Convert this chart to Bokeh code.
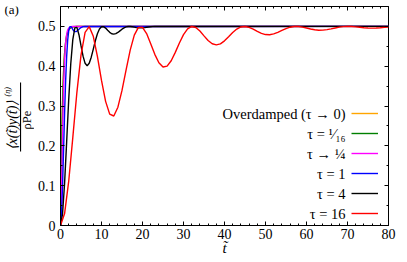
from math import pi
from bokeh.plotting import figure
from bokeh.layouts import row
from bokeh.models import (Range1d, FixedTicker, LinearAxis, Label, Legend,
                          LegendItem, BoxAnnotation, CustomLabelingPolicy)
from bokeh.core.properties import value
from bokeh.embed import file_html
from bokeh.resources import INLINE

# ---------------- data ----------------
over_t = [0, 0.05, 0.1, 0.15, 0.2, 0.3, 0.4, 0.5, 0.6, 0.8, 1.0, 1.25, 1.5, 2, 2.5, 3, 4, 5, 80]
over_y = [0, 0.0476, 0.0906, 0.1296, 0.1648, 0.2256, 0.2753, 0.3161, 0.3494, 0.3991,
          0.4323, 0.4590, 0.4751, 0.4908, 0.4966, 0.4988, 0.4998, 0.5, 0.5]

tau16th_t = [0, 0.05, 0.1, 0.15, 0.2, 0.3, 0.4, 0.5, 0.6, 0.8, 1.0, 1.25, 1.5, 2, 2.5, 3, 4, 80]
tau16th_y = [0, 0.0154, 0.0483, 0.0868, 0.1254, 0.1956, 0.2539, 0.3013, 0.3396, 0.3956,
             0.4320, 0.4602, 0.4767, 0.4920, 0.4973, 0.4991, 0.4999, 0.5]

tau4th_t = [0, 0.1, 0.2, 0.3, 0.4, 0.5, 0.6, 0.8, 1.0, 1.2, 1.4, 1.6, 1.8, 2.0, 2.5, 3, 80]
tau4th_y = [0, 0.0174, 0.0597, 0.1145, 0.1729, 0.2293, 0.2805, 0.3622, 0.4176, 0.4524,
            0.4733, 0.4853, 0.4921, 0.4958, 0.4992, 0.4998, 0.5]

tau1_t = [0, 0.25, 0.5, 0.75, 1, 1.25, 1.5, 1.75, 2, 2.25, 2.5, 2.75, 3, 3.25, 3.5,
          3.75, 4, 4.5, 5, 5.5, 6, 7, 80]
tau1_y = [0, 0.0282, 0.0990, 0.1901, 0.2824, 0.3627, 0.4241, 0.4653, 0.4887, 0.4985,
          0.4997, 0.4966, 0.4923, 0.4888, 0.4869, 0.4869, 0.4883, 0.4930, 0.4972, 0.4994,
          0.5, 0.4997, 0.5]

tau4_t = [0, 0.5, 1, 1.5, 2, 2.5, 3, 3.5, 4, 4.5, 5, 5.5, 6, 6.5, 7, 7.5, 8, 8.5, 9, 9.5,
          10, 10.5, 11, 11.5, 12, 12.5, 13, 13.5, 14, 14.5, 15, 15.5, 16, 16.5, 17, 17.5,
          18, 18.5, 19, 19.5, 20, 20.5, 21, 22, 23, 24, 80]
tau4_y = [0, 0.0294, 0.1065, 0.2097, 0.3157, 0.4055, 0.4669, 0.4963, 0.4975, 0.4791,
          0.4517, 0.4253, 0.4073, 0.4013, 0.4073, 0.4227, 0.4431, 0.4640, 0.4817, 0.4936,
          0.4993, 0.4995, 0.4958, 0.4903, 0.4852, 0.4816, 0.4805, 0.4818, 0.4848, 0.4889,
          0.4930, 0.4964, 0.4988, 0.4999, 0.4999, 0.4991, 0.4981, 0.4970, 0.4964, 0.4962,
          0.4964, 0.4970, 0.4978, 0.4993, 0.5000, 0.4998, 0.5]

tau16_t = list(range(0, 81))
tau16_y = [0, 0.0300, 0.1106, 0.2206, 0.3345, 0.4280, 0.4851, 0.4995, 0.4751, 0.4245,
           0.3644, 0.3118, 0.2797, 0.2750, 0.2971, 0.3393, 0.3910, 0.4406, 0.4781, 0.4976,
           0.4978, 0.4820, 0.4567, 0.4298, 0.4086, 0.3980, 0.4001, 0.4137, 0.4348, 0.4585,
           0.4795, 0.4940, 0.4999, 0.4973, 0.4883, 0.4762, 0.4646, 0.4564, 0.4535, 0.4563,
           0.4638, 0.4740, 0.4846, 0.4933, 0.4986, 0.4999, 0.4977, 0.4930, 0.4874, 0.4825,
           0.4795, 0.4791, 0.4811, 0.4851, 0.4899, 0.4945, 0.4980, 0.4998, 0.4998, 0.4983,
           0.4960, 0.4935, 0.4915, 0.4905, 0.4907, 0.4920, 0.4939, 0.4961, 0.4981, 0.4994,
           0.5000, 0.4997, 0.4989, 0.4978, 0.4967, 0.4959, 0.4957, 0.4959, 0.4966, 0.4976,
           0.4986]

series_labels = ["Overdamped (τ → 0)", "τ = ¹⁄₁₆", "τ → ¼", "τ = 1", "τ = 4", "τ = 16"]
series_colors = ["#FFA500", "#008000", "#FF00FF", "#0000FF", "#000000", "#FF0000"]

x_ticks = [0, 10, 20, 30, 40, 50, 60, 70, 80]
x_tick_labels = ["0", "10", "20", "30", "40", "50", "60", "70", "80"]
y_ticks = [0, 0.1, 0.2, 0.3, 0.4, 0.5]
y_tick_labels = ["0", "0.1", "0.2", "0.3", "0.4", "0.5"]

FONT = "Liberation Serif"
H = 258
SW = 34          # width of the left strip
TOP, BOTTOM = 6, 29
FB = H - BOTTOM  # page y of the frame bottom (229)

# ---------------- left strip with panel tag and y-axis title ----------------
side = figure(width=SW, height=H, output_backend="svg", toolbar_location=None,
              x_axis_type=None, y_axis_type=None, x_range=Range1d(0, SW),
              y_range=Range1d(0, 1), min_border_left=0, min_border_right=0,
              min_border_top=TOP, min_border_bottom=BOTTOM)
side.outline_line_color = None
side.background_fill_color = "white"
side.border_fill_color = "white"
side.add_layout(Label(x=4, y=FB - 13, x_units="screen", y_units="screen", text="(a)",
                      text_align="left", text_baseline="middle", text_font=FONT,
                      text_font_size="13px", text_color="black"))
side.add_layout(Label(x=12, y=FB - 153, x_units="screen", y_units="screen", angle=pi / 2,
                      text="⟨x(t̃)y(t̃)⟩", text_align="left", text_baseline="middle",
                      text_font=FONT, text_font_style="italic", text_font_size="14px",
                      text_color="black"))
side.add_layout(Label(x=7, y=FB - 100, x_units="screen", y_units="screen", angle=pi / 2,
                      text="(η)", text_align="left", text_baseline="middle",
                      text_font=FONT, text_font_style="italic", text_font_size="8px",
                      text_color="black"))
side.add_layout(BoxAnnotation(left=19.5, right=20.6, bottom=FB - 155, top=FB - 86,
                              left_units="screen", right_units="screen",
                              bottom_units="screen", top_units="screen",
                              fill_color="black", fill_alpha=1, line_color=None))
side.add_layout(Label(x=26.5, y=FB - 133, x_units="screen", y_units="screen", angle=pi / 2,
                      text="ρPe", text_align="left", text_baseline="middle",
                      text_font=FONT, text_font_size="12.5px", text_color="black"))

# ---------------- main plot ----------------
p = figure(width=366, height=H, output_backend="svg", toolbar_location=None,
           x_range=Range1d(0, 80), y_range=Range1d(0, 0.55),
           min_border_left=23, min_border_right=12, min_border_top=TOP,
           min_border_bottom=BOTTOM)
p.background_fill_color = "white"
p.border_fill_color = "white"
p.xgrid.visible = False
p.ygrid.visible = False
p.outline_line_color = "black"
p.outline_line_width = 1

x_minor = [v / 2 for v in range(0, 161, 4) if v % 20 != 0]
y_minor = [0.05, 0.15, 0.25, 0.35, 0.45, 0.55]
xt = FixedTicker(ticks=x_ticks, minor_ticks=x_minor)
yt = FixedTicker(ticks=y_ticks, minor_ticks=y_minor)


def style_axis(ax, labels=True):
    ax.major_tick_in = 4
    ax.major_tick_out = 0
    ax.minor_tick_in = 2
    ax.minor_tick_out = 0
    ax.major_tick_line_color = "black"
    ax.minor_tick_line_color = "black"
    ax.axis_line_color = "black"
    ax.major_label_text_font = FONT
    ax.major_label_text_color = "black"
    if labels:
        ax.major_label_text_font_size = "14px"
    else:
        # mirror axis: ticks only, no labels drawn at all
        ax.major_label_text_font_size = "0px"
        ax.major_label_standoff = 0
        ax.axis_line_color = None
        ax.major_label_policy = CustomLabelingPolicy(code="return new Set()")


xa = p.xaxis[0]
ya = p.yaxis[0]
xa.ticker = xt
ya.ticker = yt
xa.major_label_overrides = dict(zip(x_ticks, x_tick_labels))
ya.major_label_overrides = dict(zip(y_ticks, y_tick_labels))
style_axis(xa)
style_axis(ya)
xa.major_label_standoff = 3
ya.major_label_standoff = 5
xa.axis_label = "t̃"
xa.axis_label_text_font = FONT
xa.axis_label_text_font_style = "italic"
xa.axis_label_text_font_size = "15px"
xa.axis_label_text_color = "black"
xa.axis_label_standoff = -2

top = LinearAxis(ticker=xt)
right = LinearAxis(ticker=yt)
style_axis(top, labels=False)
style_axis(right, labels=False)
p.add_layout(top, "above")
p.add_layout(right, "right")

# ---------------- curves ----------------
all_t = [over_t, tau16th_t, tau4th_t, tau1_t, tau4_t, tau16_t]
all_y = [over_y, tau16th_y, tau4th_y, tau1_y, tau4_y, tau16_y]
renderers = []
for t, y, c in zip(all_t, all_y, series_colors):
    renderers.append(p.line(t, y, line_color=c, line_width=1.4))

# legend: line samples via Legend, texts to their left
legend = Legend(items=[LegendItem(label=value(" "), renderers=[r]) for r in renderers],
                location=(291, 2), glyph_width=27, glyph_height=20, label_width=0,
                label_height=20, label_standoff=0, spacing=0, padding=0, margin=0,
                border_line_color=None, background_fill_alpha=0,
                label_text_font_size="10px")
p.add_layout(legend, "center")
for i, txt in enumerate(series_labels):
    p.add_layout(Label(x=285, y=112 - 20 * i, x_units="screen", y_units="screen",
                       text=txt, text_align="right", text_baseline="middle",
                       text_font=FONT, text_font_size="14.5px", text_color="black"))

layout = row(side, p)
open("out.html", "w").write(file_html(layout, INLINE))
